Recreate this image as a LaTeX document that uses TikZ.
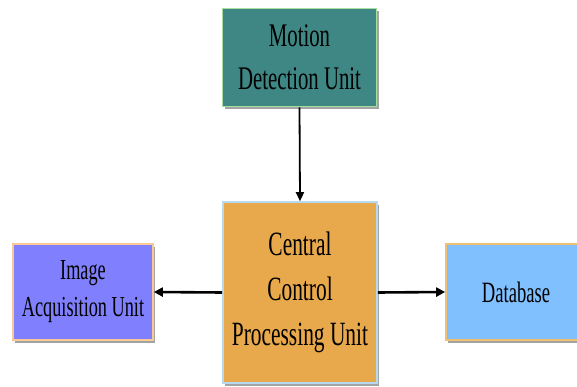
\documentclass[tikz,border=0pt]{standalone}
\usepackage{fontspec}
\setmainfont[FakeStretch=0.63]{Liberation Serif}
\usetikzlibrary{shadows,arrows.meta}
\definecolor{tealbox}{HTML}{3F8784}
\definecolor{tealborder}{HTML}{A6DEA0}
\definecolor{orangebox}{HTML}{E8A84C}
\definecolor{orangeborder}{HTML}{B6DAF0}
\definecolor{violetbox}{HTML}{8080FF}
\definecolor{violetborder}{HTML}{F8C896}
\definecolor{bluebox}{HTML}{80C0FF}
\definecolor{blueborder}{HTML}{F0C070}
\tikzset{
  unitbox/.style={draw, line width=1.6pt, inner sep=0pt, align=center,
    drop shadow={shadow xshift=2pt, shadow yshift=-3pt, fill=black!45, opacity=0.8}},
  link/.style={line width=2.6pt, -{Triangle[length=9pt,width=9pt]}},
  vlink/.style={line width=1.8pt, -{Triangle[length=9pt,width=8pt]}}
}
\begin{document}
\begin{tikzpicture}[x=1pt,y=-1pt]
\useasboundingbox (0,0) rectangle (577,387);
\node[unitbox, fill=tealbox, draw=tealborder, minimum width=154pt, minimum height=98pt,
  font=\fontsize{33}{43}\selectfont] (motion) at (299.5,57.5) {Motion\\Detection Unit};
\node[unitbox, fill=orangebox, draw=orangeborder, minimum width=154pt, minimum height=181pt,
  font=\fontsize{34}{45}\selectfont] (central) at (300,292.5) {Central\\Control\\Processing Unit};
\node[unitbox, fill=violetbox, draw=violetborder, minimum width=140pt, minimum height=96pt,
  font=\fontsize{29}{37}\selectfont] (image) at (83,292) {Image\\Acquisition Unit};
\node[unitbox, fill=bluebox, draw=blueborder, minimum width=140pt, minimum height=96pt,
  font=\fontsize{29.5}{37}\selectfont] (db) at (516,292) {Database};
\draw[vlink] (motion.south) -- (central.north);
\draw[link] (central.west) -- (image.east);
\draw[link] (central.east) -- (db.west);
\end{tikzpicture}
\end{document}
